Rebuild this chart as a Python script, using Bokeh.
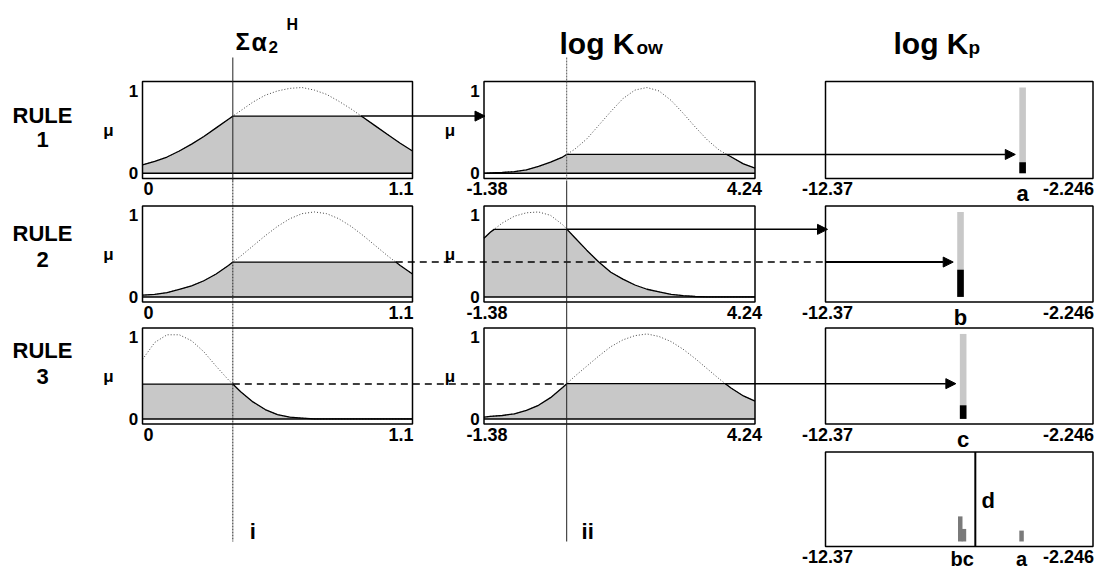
from bokeh.plotting import figure
from bokeh.models import Range1d, Label, Arrow, NormalHead
from bokeh.embed import file_html
from bokeh.resources import INLINE

# ---------------- data ----------------
alpha_range = [0.0, 1.1]
kow_range = [-1.38, 4.24]
kp_range = [-12.37, -2.246]
alpha_ticks = ["0", "1.1"]
kow_ticks = ["-1.38", "4.24"]
kp_ticks = ["-12.37", "-2.246"]
rule_names = ["1", "2", "3"]

alpha_input = 0.368
kow_input = 0.335

alpha_x = [0.0, 0.05, 0.1, 0.15, 0.2, 0.25, 0.3, 0.35, 0.4, 0.45, 0.5, 0.55,
           0.6, 0.65, 0.7, 0.75, 0.8, 0.85, 0.9, 0.95, 1.0, 1.05, 1.1]
rule1_alpha_mu = [0.10, 0.14, 0.19, 0.26, 0.34, 0.43, 0.53, 0.63, 0.73, 0.83, 0.91, 0.96,
                  0.99, 1.00, 0.97, 0.92, 0.84, 0.75, 0.65, 0.55, 0.45, 0.35, 0.26]
rule2_alpha_mu = [0.02, 0.03, 0.05, 0.09, 0.13, 0.19, 0.27, 0.37, 0.48, 0.60, 0.72, 0.83,
                  0.92, 0.98, 1.00, 0.98, 0.92, 0.83, 0.72, 0.60, 0.48, 0.37, 0.27]
rule3_alpha_mu = [0.70, 0.90, 0.99, 0.99, 0.92, 0.79, 0.62, 0.46, 0.32, 0.20, 0.11, 0.05,
                  0.02, 0.01, 0.0, 0.0, 0.0, 0.0, 0.0, 0.0, 0.0, 0.0, 0.0]

kow_x = [-1.38, -1.25, -1.0, -0.75, -0.5, -0.25, 0.0, 0.25, 0.5, 0.75, 1.0, 1.25,
         1.5, 1.75, 2.0, 2.25, 2.5, 2.75, 3.0, 3.25, 3.5, 3.75, 4.0, 4.24]
rule1_kow_mu = [0.0, 0.005, 0.01, 0.02, 0.04, 0.08, 0.13, 0.19, 0.28, 0.40, 0.56, 0.72,
                0.87, 0.97, 1.00, 0.96, 0.85, 0.70, 0.54, 0.39, 0.27, 0.19, 0.11, 0.06]
rule2_kow_mu = [0.69, 0.76, 0.87, 0.95, 0.99, 1.00, 0.96, 0.85, 0.70, 0.55, 0.41, 0.29,
                0.21, 0.14, 0.09, 0.06, 0.03, 0.015, 0.005, 0.0, 0.0, 0.0, 0.0, 0.0]
rule3_kow_mu = [0.02, 0.03, 0.04, 0.06, 0.10, 0.16, 0.25, 0.37, 0.50, 0.62, 0.74, 0.85,
                0.93, 0.98, 1.00, 0.97, 0.91, 0.82, 0.71, 0.59, 0.47, 0.36, 0.27, 0.21]

alpha_cut = [0.667, 0.41, 0.41]
kow_cut = [0.22, 0.795, 0.415]

out_labels = ["a", "b", "c"]
out_pos = [-4.91, -7.26, -7.16]
out_strength = [0.13, 0.32, 0.16]

agg_pos = [-7.27, -7.13, -4.95]
agg_strength = [0.30, 0.15, 0.13]
agg_labels = ["bc", "a"]
defuzz_d = -6.70

# ---------------- layout (reference pixel frame) ----------------
XA, XB = 0, 1094
YB, YT = 571, 0
COLS = {"alpha": (142, 412), "kow": (483.5, 754.5), "kp": (825, 1092.5)}
ROWS = [(81, 178), (205.5, 301.5), (327.5, 423.5), (451.5, 546)]
MU_BOT, MU_TOP = -0.06, 1.07
FONT = "Liberation Sans"
SHADE = "#c8c8c8"

p = figure(width=1094, height=571, x_range=Range1d(XA, XB), y_range=Range1d(YB, YT),
           output_backend="svg", toolbar_location=None, min_border=0,
           x_axis_location=None, y_axis_location=None)
p.grid.visible = False
p.outline_line_color = None
p.background_fill_color = "white"
p.border_fill_color = "white"

panels = {}
xr, yr = {}, {}
def make_panel(name, col, row, lo, hi):
    L, R = COLS[col]
    T, B = ROWS[row]
    sx = (hi - lo) / (R - L)
    sy = (MU_TOP - MU_BOT) / (B - T)
    xr[name] = Range1d(lo + (XA - L) * sx, lo + (XB - L) * sx)
    yr[name] = Range1d(MU_BOT + (B - YB) * sy, MU_BOT + (B - YT) * sy)
    panels[name] = dict(name=name, col=col, L=L, R=R, T=T, B=B, lo=lo, hi=hi, sx=sx, sy=sy)
    return panels[name]

for r in range(3):
    make_panel(f"al{r}", "alpha", r, *alpha_range)
    make_panel(f"kw{r}", "kow", r, *kow_range)
    make_panel(f"kp{r}", "kp", r, *kp_range)
make_panel("agg", "kp", 3, *kp_range)
p.extra_x_ranges = xr
p.extra_y_ranges = yr

def to_ref(pn, x, mu):
    return pn["L"] + (x - pn["lo"]) / pn["sx"], pn["B"] - (mu - MU_BOT) / pn["sy"]

def rn(pn):
    return dict(x_range_name=pn["name"], y_range_name=pn["name"])

def clip(xs, ys, cut):
    ox, oy, cross = [], [], []
    for k in range(len(xs)):
        if k > 0:
            a, b = ys[k - 1] - cut, ys[k] - cut
            if a * b < 0:
                t = a / (a - b)
                xc = xs[k - 1] + t * (xs[k] - xs[k - 1])
                ox.append(xc); oy.append(cut); cross.append(xc)
        ox.append(xs[k]); oy.append(min(ys[k], cut))
    return ox, oy, cross

def txt(x, y, s, size, align="center", base="middle", style="bold"):
    p.add_layout(Label(x=x, y=y, text=s, text_font=FONT, text_font_style=style,
                       text_font_size=f"{size}px", text_align=align, text_baseline=base,
                       text_color="black"))

def arrow(x0, y0, x1, y1, w=1.5):
    p.add_layout(Arrow(end=NormalHead(size=10, fill_color="black", line_color="black", line_width=1),
                       x_start=x0, y_start=y0, x_end=x1, y_end=y1,
                       line_color="black", line_width=w))

TICK_STYLE = {"alpha": ((1, "left"), (1, "right")),
              "kow": ((3, "center"), (7, "right")),
              "kp": ((2, "center"), (1, "right"))}
TICKS = {"alpha": alpha_ticks, "kow": kow_ticks, "kp": kp_ticks}

def frame(pn):
    p.quad(left=[pn["lo"]], right=[pn["hi"]], bottom=[MU_BOT], top=[MU_TOP],
           fill_color=None, line_color="black", line_width=1.5, **rn(pn))
    (lo_off, lo_al), (hi_off, hi_al) = TICK_STYLE[pn["col"]]
    t0, t1 = TICKS[pn["col"]]
    txt(pn["L"] + lo_off, pn["B"] + 10, t0, 18, align=lo_al)
    txt(pn["R"] + hi_off, pn["B"] + 10, t1, 18, align=hi_al)

def membership(pn, xs, mus, cut):
    cx, cy, cross = clip(xs, mus, cut)
    p.patch([xs[0]] + cx + [xs[-1]], [0] + cy + [0], fill_color=SHADE, line_color=None, **rn(pn))
    p.line(xs, mus, line_color="#444444", line_width=1, line_dash="1 2", **rn(pn))
    p.line(cx, cy, line_color="black", line_width=1.3, **rn(pn))
    p.line([pn["lo"], pn["hi"]], [0, 0], line_color="black", line_width=1.5, **rn(pn))
    frame(pn)
    txt(pn["L"] - 9, to_ref(pn, 0, 0.96)[1], "1", 17)
    txt(pn["L"] - 9, to_ref(pn, 0, 0.0)[1], "0", 17)
    txt(pn["L"] - 34, to_ref(pn, 0, 0.5)[1], "\u03bc", 17)
    return cross

alpha_mu = [rule1_alpha_mu, rule2_alpha_mu, rule3_alpha_mu]
kow_mu = [rule1_kow_mu, rule2_kow_mu, rule3_kow_mu]
BAR_W = 0.25
rule_y = [(115, 139), (233, 259), (350, 376)]

for r in range(3):
    al, kw, kp = panels[f"al{r}"], panels[f"kw{r}"], panels[f"kp{r}"]
    cr_a = membership(al, alpha_x, alpha_mu[r], alpha_cut[r])
    cr_k = membership(kw, kow_x, kow_mu[r], kow_cut[r])
    # output panel
    frame(kp)
    p.vbar(x=[out_pos[r]], width=BAR_W, bottom=0, top=[1.0], fill_color=SHADE, line_color=None, **rn(kp))
    p.vbar(x=[out_pos[r]], width=BAR_W, bottom=0, top=[out_strength[r]], fill_color="black", line_color=None, **rn(kp))
    txt(to_ref(kp, out_pos[r], 0)[0], kp["B"] + 15, out_labels[r], 22)
    # rule names
    txt(42, rule_y[r][0], "RULE", 22)
    txt(42, rule_y[r][1], rule_names[r], 22)

    tip_x = to_ref(kp, out_pos[r] - BAR_W / 2, 0)[0] - 4
    a_end = max(cr_a)
    k_end = max(cr_k)
    ya = to_ref(al, 0, alpha_cut[r])[1]
    yk = to_ref(kw, 0, kow_cut[r])[1]
    xi = to_ref(al, alpha_input, 0)[0]
    xii = to_ref(kw, kow_input, 0)[0]
    if r == 0:
        x0 = to_ref(al, a_end, 0)[0]
        arrow(x0, ya, kw["L"] + 1, ya)
        arrow(to_ref(kw, k_end, 0)[0], yk, tip_x, yk)
    elif r == 1:
        x0 = to_ref(al, a_end, 0)[0]
        p.line([x0, kp["L"]], [ya, ya], line_color="black", line_width=1.6, line_dash="7 5")
        arrow(kp["L"], ya, tip_x, ya, w=2)
        arrow(xii, yk, kp["L"] + 2, yk)
    else:
        p.line([xi, xii], [ya, ya], line_color="black", line_width=1.6, line_dash="7 5")
        arrow(to_ref(kw, k_end, 0)[0], yk, tip_x, yk)

# aggregated output panel
ag = panels["agg"]
frame(ag)
p.vbar(x=agg_pos, width=0.17, bottom=0, top=agg_strength, fill_color="#7a7a7a", line_color=None, **rn(ag))
p.line([defuzz_d, defuzz_d], [MU_BOT, MU_TOP], line_color="black", line_width=2, **rn(ag))
xd = to_ref(ag, defuzz_d, 0)[0]
txt(xd + 13, 500, "d", 22)
txt(to_ref(ag, (agg_pos[0] + agg_pos[1]) / 2, 0)[0], ag["B"] + 12, agg_labels[0], 20)
txt(to_ref(ag, agg_pos[2], 0)[0], ag["B"] + 12, agg_labels[1], 20)

# input lines
V_TOP, V_SPLIT, V_BOT = 57, 180, 541
xi = to_ref(panels["al0"], alpha_input, 0)[0]
xii = to_ref(panels["kw0"], kow_input, 0)[0]
p.line([xi, xi], [V_TOP, V_SPLIT], line_color="#222222", line_width=1)
p.line([xi, xi], [V_SPLIT, V_BOT], line_color="#222222", line_width=1, line_dash="2 1")
p.line([xii, xii], [V_TOP, V_SPLIT], line_color="#555555", line_width=1, line_dash="2 1")
p.line([xii, xii], [V_SPLIT, V_BOT], line_color="#222222", line_width=1)
txt(xi + 20, 531, "i", 22)
txt(xii + 21, 531, "ii", 22)

# column titles
txt(235, 41, "\u03a3", 24, align="left", base="alphabetic")
txt(251, 41, "\u03b1", 25, align="left", base="alphabetic")
txt(268, 46, "2", 17, align="left", base="alphabetic")
txt(286, 24, "H", 16, align="left", base="alphabetic")
txt(559, 43, "log K", 30, align="left", base="alphabetic")
txt(636, 47, "ow", 19, align="left", base="alphabetic")
txt(893, 43, "log K", 30, align="left", base="alphabetic")
txt(968, 47, "p", 19, align="left", base="alphabetic")

open("out.html", "w").write(file_html(p, INLINE))
